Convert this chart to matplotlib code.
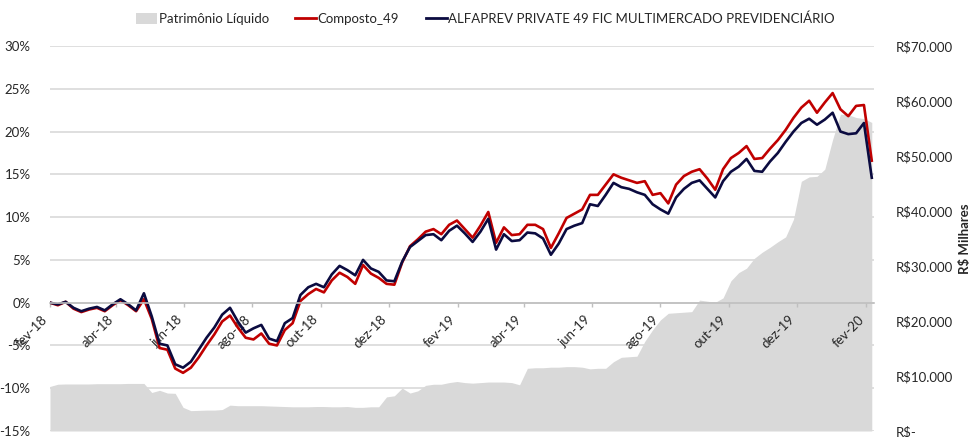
import matplotlib
matplotlib.use('Agg')
import matplotlib.pyplot as plt
from matplotlib.patches import Patch
from matplotlib.lines import Line2D
import pandas as pd

plt.rcParams['font.family'] = ['Lato', 'DejaVu Sans']

# ---------------- data ----------------
dates = pd.date_range('2018-02-01', periods=106, freq='7D')

fund = [0.0, -0.2, 0.1, -0.6, -1.0, -0.7, -0.5, -0.9, -0.2, 0.4,
        -0.2, -0.9, 1.1, -1.6, -4.8, -5.0, -7.2, -7.6, -6.9, -5.5,
        -4.1, -2.9, -1.4, -0.6, -2.2, -3.5, -3.0, -2.6, -4.2, -4.5,
        -2.4, -1.8, 0.9, 1.8, 2.2, 1.8, 3.3, 4.3, 3.8, 3.2,
        5.0, 4.0, 3.6, 2.6, 2.5, 4.8, 6.5, 7.2, 7.9, 8.0,
        7.3, 8.4, 9.0, 8.1, 7.1, 8.3, 9.8, 6.2, 8.0, 7.2,
        7.3, 8.2, 8.1, 7.5, 5.6, 6.9, 8.6, 9.0, 9.3, 11.5,
        11.3, 12.6, 14.0, 13.5, 13.3, 12.9, 12.6, 11.5, 10.9, 10.4,
        12.3, 13.3, 14.0, 14.3, 13.3, 12.3, 14.2, 15.3, 15.9, 16.8,
        15.4, 15.3, 16.5, 17.5, 18.8, 20.0, 21.0, 21.5, 20.8, 21.4,
        22.2, 20.0, 19.7, 19.8, 21.0, 14.6]

composto = [0.0, -0.3, 0.1, -0.7, -1.1, -0.8, -0.6, -1.0, -0.3, 0.3,
            -0.3, -1.0, 0.4, -1.9, -5.3, -5.5, -7.7, -8.2, -7.6, -6.4,
            -5.0, -3.7, -2.2, -1.5, -2.9, -4.1, -4.3, -3.6, -4.8, -5.0,
            -3.2, -2.4, 0.2, 1.0, 1.6, 1.2, 2.6, 3.5, 3.0, 2.2,
            4.4, 3.4, 2.9, 2.2, 2.1, 4.7, 6.6, 7.4, 8.3, 8.6,
            8.0, 9.1, 9.6, 8.6, 7.6, 9.0, 10.6, 7.0, 8.8, 7.9,
            8.0, 9.1, 9.1, 8.6, 6.4, 8.1, 9.9, 10.4, 10.9, 12.6,
            12.6, 13.8, 15.0, 14.6, 14.3, 14.0, 14.2, 12.6, 12.8, 11.6,
            13.8, 14.8, 15.3, 15.6, 14.5, 13.2, 15.6, 16.9, 17.5, 18.3,
            16.8, 16.9, 18.0, 19.0, 20.2, 21.6, 22.8, 23.6, 22.2, 23.4,
            24.5, 22.6, 21.8, 23.0, 23.1, 16.6]

# Patrimonio Liquido, R$ thousands
pl = [8100, 8500, 8550, 8550, 8550, 8550, 8600, 8600, 8600, 8600,
      8650, 8650, 8650, 7000, 7400, 6900, 6850, 4300, 3700, 3750,
      3800, 3800, 3900, 4700, 4600, 4600, 4600, 4600, 4550, 4500,
      4450, 4400, 4400, 4400, 4450, 4450, 4400, 4400, 4450, 4300,
      4300, 4400, 4400, 6200, 6400, 7800, 6900, 7300, 8300, 8500,
      8500, 8800, 9000, 8800, 8700, 8800, 8900, 8900, 8900, 8800,
      8400, 11400, 11500, 11500, 11600, 11600, 11700, 11700, 11600, 11300,
      11400, 11400, 12600, 13400, 13500, 13600, 16300, 18400, 20200, 21400,
      21500, 21600, 21700, 23800, 23600, 23400, 24200, 27300, 28800, 29600,
      31400, 32500, 33400, 34400, 35300, 38500, 45400, 46200, 46300, 47600,
      53000, 57600, 57500, 57000, 56800, 56100]

tick_dates = pd.date_range('2018-02-01', '2020-02-01', freq='2MS')
tick_labels = ['fev-18', 'abr-18', 'jun-18', 'ago-18', 'out-18', 'dez-18',
               'fev-19', 'abr-19', 'jun-19', 'ago-19', 'out-19', 'dez-19',
               'fev-20']

pct_ticks = [-15, -10, -5, 0, 5, 10, 15, 20, 25, 30]
pct_labels = ['-15%', '-10%', '-5%', '0%', '5%', '10%', '15%', '20%', '25%', '30%']
pl_ticks = [0, 10000, 20000, 30000, 40000, 50000, 60000, 70000]
pl_labels = ['R$-', 'R$10.000', 'R$20.000', 'R$30.000', 'R$40.000',
             'R$50.000', 'R$60.000', 'R$70.000']

label_names = ['Patrimônio Líquido', 'Composto_49',
               'ALFAPREV PRIVATE 49 FIC MULTIMERCADO PREVIDENCIÁRIO']

# ---------------- styling ----------------
C_RED = '#C00000'
C_NAVY = '#0B0B40'
C_AREA = '#D9D9D9'
C_GRID = '#D9D9D9'
C_AXIS = '#BFBFBF'
C_TXT = '#262626'
FS = 9.5

fig = plt.figure(figsize=(9.71, 4.37), dpi=100)
rect = [50 / 971, 6 / 437, 824 / 971, 385 / 437]
ax = fig.add_axes(rect)
xmin, xmax = pd.Timestamp('2018-02-01'), pd.Timestamp('2020-02-08')

# base axis: gridlines and left labels
ax.set_xlim(xmin, xmax)
ax.set_ylim(-15, 30)
ax.set_yticks(pct_ticks)
ax.set_yticklabels(pct_labels, fontsize=FS, color=C_TXT)
ax.tick_params(axis='y', length=0, pad=14)
ax.tick_params(axis='x', bottom=False, labelbottom=False)
ax.grid(axis='y', color=C_GRID, lw=1.2)
ax.set_axisbelow(True)
for s in ax.spines.values():
    s.set_visible(False)

# area axis (right)
ax2 = ax.twinx()
ax2.fill_between(dates, pl, 0, color=C_AREA, lw=0)
ax2.set_ylim(0, 70000)
ax2.set_yticks(pl_ticks)
ax2.set_yticklabels(pl_labels, fontsize=FS, color=C_TXT)
ax2.tick_params(axis='y', length=0, pad=16)
ax2.set_ylabel('R$ Milhares', fontsize=FS, fontweight='bold', color=C_TXT, labelpad=4)
for s in ax2.spines.values():
    s.set_visible(False)

# lines axis (top)
ax3 = ax.twinx()
ax3.xaxis.set_visible(True)
ax3.set_ylim(-15, 30)
ax3.set_yticks([])
ax3.plot(dates, composto, color=C_RED, lw=1.9)
ax3.plot(dates, fund, color=C_NAVY, lw=1.9)
for k, s in ax3.spines.items():
    s.set_visible(k == 'bottom')
ax3.spines['bottom'].set_position(('data', 0))
ax3.spines['bottom'].set_color(C_AXIS)
ax3.spines['bottom'].set_linewidth(1.2)
ax3.set_xlim(xmin, xmax)
ax3.tick_params(axis='x', length=3, color=C_AXIS, width=1, pad=4.5,
                bottom=True, labelbottom=True, labelrotation=45,
                labelsize=FS, labelcolor=C_TXT)
ax3.set_xticks(tick_dates)
ax3.set_xticklabels(tick_labels)

handles = [Patch(facecolor=C_AREA, edgecolor='none'),
           Line2D([], [], color=C_RED, lw=2),
           Line2D([], [], color=C_NAVY, lw=2)]
fig.legend(handles, label_names, loc='center', bbox_to_anchor=(0.5, 1 - 19 / 437),
           ncol=3, frameon=False, fontsize=FS, handlelength=1.6,
           handleheight=0.9, handletextpad=0.1, columnspacing=2.0,
           labelcolor=C_TXT)

for lbl in ax3.get_xticklabels():
    lbl.set_rotation(45)
    lbl.set_ha('right')
    lbl.set_va('top')

fig.savefig('out.png', dpi=100)
